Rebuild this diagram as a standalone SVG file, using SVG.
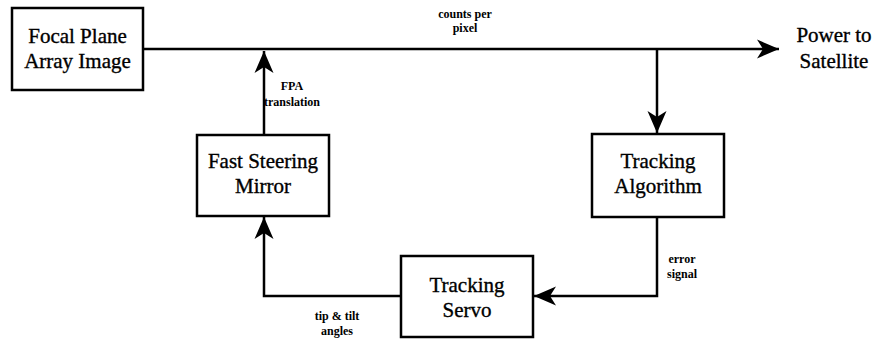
<svg xmlns="http://www.w3.org/2000/svg" width="875" height="343" viewBox="0 0 875 343">
  <defs>
    <style>
      .box { fill: #fff; stroke: #000; stroke-width: 2.5; }
      .wire { fill: none; stroke: #000; stroke-width: 2.5; }
      .big { font-family: "Liberation Serif", "Times New Roman", serif; font-size: 21px; fill: #000; stroke: #000; stroke-width: 0.35; text-anchor: middle; }
      .small { font-family: "Liberation Serif", "Times New Roman", serif; font-size: 12px; font-weight: bold; fill: #000; text-anchor: middle; }
    </style>
    <marker id="arrow" viewBox="-23 -10 24 20" refX="0" refY="0" markerWidth="24" markerHeight="20" orient="auto" markerUnits="userSpaceOnUse">
      <path d="M0,0 L-22,-9.5 L-16,0 L-22,9.5 Z" fill="#000"/>
    </marker>
  </defs>
  <rect width="875" height="343" fill="#fff"/>

  <g id="connectors">
    <!-- image signal to output -->
    <path class="wire" d="M143,49 H779" marker-end="url(#arrow)"/>
    <!-- branch down to tracking algorithm -->
    <path class="wire" d="M657,49 V133" marker-end="url(#arrow)"/>
    <!-- error signal to servo -->
    <path class="wire" d="M657,217 V296 H534" marker-end="url(#arrow)"/>
    <!-- servo to mirror -->
    <path class="wire" d="M401,296 H264 V217" marker-end="url(#arrow)"/>
    <!-- mirror to focal plane line -->
    <path class="wire" d="M264,135 V51" marker-end="url(#arrow)"/>
    <text class="small" x="465" y="18">counts per</text>
    <text class="small" x="465" y="32">pixel</text>
    <text class="small" x="292" y="90">FPA</text>
    <text class="small" x="292" y="106">translation</text>
    <text class="small" x="682" y="263">error</text>
    <text class="small" x="682" y="278">signal</text>
    <text class="small" x="337" y="320">tip &amp; tilt</text>
    <text class="small" x="337" y="335">angles</text>
  </g>

  <g id="focal-plane">
    <rect class="box" x="12" y="8" width="131" height="82"/>
    <text class="big" x="77.5" y="43">Focal Plane</text>
    <text class="big" x="77.5" y="68">Array Image</text>
  </g>

  <g id="fast-steering-mirror">
    <rect class="box" x="197" y="135" width="132" height="81"/>
    <text class="big" x="263" y="168">Fast Steering</text>
    <text class="big" x="263" y="193">Mirror</text>
  </g>

  <g id="tracking-algorithm">
    <rect class="box" x="592" y="134" width="132" height="83"/>
    <text class="big" x="658" y="168">Tracking</text>
    <text class="big" x="658" y="193">Algorithm</text>
  </g>

  <g id="tracking-servo">
    <rect class="box" x="401" y="256" width="132" height="81"/>
    <text class="big" x="467" y="292">Tracking</text>
    <text class="big" x="467" y="317">Servo</text>
  </g>

  <g id="power-to-satellite">
    <text class="big" x="834" y="42">Power to</text>
    <text class="big" x="834" y="68">Satellite</text>
  </g>
</svg>
